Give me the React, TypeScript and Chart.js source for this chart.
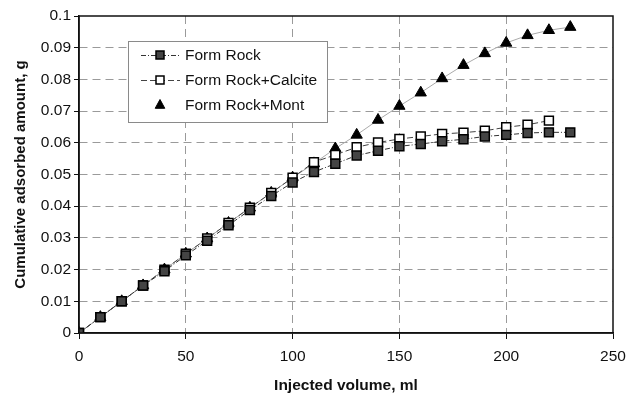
import React, { useEffect, useRef } from "react";
import { Chart, registerables } from "chart.js";

Chart.register(...registerables);

const volumes = [0, 10, 20, 30, 40, 50, 60, 70, 80, 90, 100, 110, 120, 130, 140, 150, 160, 170, 180, 190, 200, 210, 220, 230];
const formRock = [0, 0.005, 0.010, 0.015, 0.0195, 0.0245, 0.0291, 0.034, 0.0388, 0.0432, 0.0475, 0.0508, 0.0534, 0.056, 0.0575, 0.0589, 0.0596, 0.0605, 0.0611, 0.062, 0.0625, 0.0631, 0.0633, 0.0633];
const formRockCalcite = [0, 0.005, 0.010, 0.015, 0.020, 0.025, 0.0298, 0.0347, 0.0395, 0.0442, 0.049, 0.0539, 0.0562, 0.0586, 0.0601, 0.0612, 0.062, 0.0628, 0.0632, 0.0638, 0.0649, 0.0657, 0.067];
const formRockMont = [0, 0.005, 0.010, 0.015, 0.020, 0.025, 0.0298, 0.0347, 0.0395, 0.0442, 0.049, 0.0535, 0.0582, 0.0625, 0.0672, 0.0716, 0.0758, 0.0803, 0.0845, 0.0882, 0.0915, 0.0939, 0.0955, 0.0965];
const seriesLabels = ["Form Rock", "Form Rock+Calcite", "Form Rock+Mont"];
const xTitle = "Injected volume, ml";
const yTitle = "Cumulative adsorbed amount, g";

const FONT = "'Liberation Sans', Arial, sans-serif";
const toXY = (ys: number[]) => ys.map((y, i) => ({ x: volumes[i], y }));

const frameAndLegend = {
  id: "frameAndLegend",
  afterDraw(chart: any) {
    const { ctx, chartArea } = chart;
    ctx.save();
    ctx.strokeStyle = "#111";
    ctx.lineWidth = 1.5;
    ctx.setLineDash([]);
    ctx.strokeRect(chartArea.left, chartArea.top, chartArea.right - chartArea.left, chartArea.bottom - chartArea.top);

    const bx = 128, by = 41, bw = 199, bh = 81;
    ctx.fillStyle = "#fff";
    ctx.fillRect(bx, by, bw, bh);
    ctx.strokeStyle = "#8a8a8a";
    ctx.lineWidth = 1;
    ctx.strokeRect(bx + 0.5, by + 0.5, bw, bh);

    const rows = [55, 80, 105];
    chart.data.datasets.forEach((ds: any, i: number) => {
      const y = rows[i];
      if (ds.legendLine) {
        ctx.strokeStyle = ds.borderColor;
        ctx.lineWidth = 1;
        ctx.setLineDash(ds.borderDash || []);
        ctx.beginPath();
        ctx.moveTo(141, y + 0.5);
        ctx.lineTo(180, y + 0.5);
        ctx.stroke();
      }
      ctx.setLineDash([]);
      ctx.fillStyle = ds.pointBackgroundColor;
      ctx.strokeStyle = ds.pointBorderColor;
      ctx.lineWidth = ds.pointBorderWidth;
      const cx = 160;
      if (ds.pointStyle === "triangle") {
        const r = 5.5;
        ctx.beginPath();
        ctx.moveTo(cx, y - r);
        ctx.lineTo(cx + r * 0.87, y + r * 0.6);
        ctx.lineTo(cx - r * 0.87, y + r * 0.6);
        ctx.closePath();
        ctx.fill();
        ctx.stroke();
      } else {
        const s = 4;
        ctx.fillRect(cx - s, y - s, 2 * s, 2 * s);
        ctx.strokeRect(cx - s, y - s, 2 * s, 2 * s);
      }
      ctx.fillStyle = "#111";
      ctx.font = `15.5px ${FONT}`;
      ctx.textBaseline = "middle";
      ctx.textAlign = "left";
      ctx.fillText(ds.label, 185, y + 1);
    });
    ctx.restore();
  },
};

export default function App() {
  const ref = useRef<HTMLCanvasElement>(null);
  useEffect(() => {
    document.body.style.margin = "0";
    const canvas = ref.current!;
    const chart = new Chart(canvas, {
      type: "line",
      data: {
        datasets: [
          {
            label: seriesLabels[0],
            data: toXY(formRock),
            borderColor: "#333",
            borderWidth: 1,
            borderDash: [5, 2, 1, 2],
            pointStyle: "rect",
            pointRadius: 6.3,
            pointBackgroundColor: "#444",
            pointBorderColor: "#000",
            pointBorderWidth: 1.5,
            legendLine: true,
          } as any,
          {
            label: seriesLabels[1],
            data: toXY(formRockCalcite),
            borderColor: "#444",
            borderWidth: 1,
            borderDash: [6, 3],
            pointStyle: "rect",
            pointRadius: 6.3,
            pointBackgroundColor: "#fff",
            pointBorderColor: "#000",
            pointBorderWidth: 1.5,
            legendLine: true,
          } as any,
          {
            label: seriesLabels[2],
            data: toXY(formRockMont),
            borderColor: "#aaa",
            borderWidth: 1,
            pointStyle: "triangle",
            pointRadius: 6.5,
            pointBackgroundColor: "#000",
            pointBorderColor: "#000",
            pointBorderWidth: 1,
            legendLine: false,
          } as any,
        ],
      },
      options: {
        animation: false,
        responsive: false,
        layout: { padding: { top: 16, right: 25, left: 0, bottom: 0 } },
        plugins: { legend: { display: false }, tooltip: { enabled: false } },
        scales: {
          x: {
            type: "linear",
            min: 0,
            max: 250,
            afterFit: (s: any) => { s.height = 66; },
            ticks: {
              stepSize: 50,
              color: "#111",
              padding: 8,
              font: { family: FONT, size: 15.5 },
            },
            grid: {
              color: (c: any) => (c.tick && (c.tick.value === 0 || c.tick.value === 250) ? "rgba(0,0,0,0)" : "#9a9a9a"),
              lineWidth: 1,
              tickLength: 6,
              tickColor: "#111",
              tickBorderDash: [],
              drawTicks: true,
            },
            border: { color: "#111", width: 1.5, dash: [8, 5] },
            title: {
              display: true,
              text: xTitle,
              color: "#111",
              font: { family: FONT, size: 15.5, weight: "bold" },
              padding: { top: 6 },
            },
          },
          y: {
            type: "linear",
            min: 0,
            max: 0.1,
            afterFit: (s: any) => { s.width = 79; },
            ticks: {
              stepSize: 0.01,
              color: "#111",
              padding: 3,
              font: { family: FONT, size: 15.5 },
              callback: (v: any) => String(Math.round(Number(v) * 100) / 100),
            },
            grid: {
              color: (c: any) => (c.tick && (c.tick.value === 0 || c.tick.value >= 0.1) ? "rgba(0,0,0,0)" : "#9a9a9a"),
              lineWidth: 1,
              tickLength: 5,
              tickColor: "#111",
              tickBorderDash: [],
            },
            border: { color: "#111", width: 1.5, dash: [8, 5] },
            title: {
              display: true,
              text: yTitle,
              color: "#111",
              font: { family: FONT, size: 15, weight: "bold" },
              padding: { bottom: 0, top: 12 },
            },
          },
        },
      },
      plugins: [frameAndLegend],
    } as any);
    return () => chart.destroy();
  }, []);
  return (
    <div style={{ position: "relative", width: 638, height: 399, background: "#fff" }}>
      <canvas ref={ref} width={638} height={399} style={{ display: "block" }} />
    </div>
  );
}
